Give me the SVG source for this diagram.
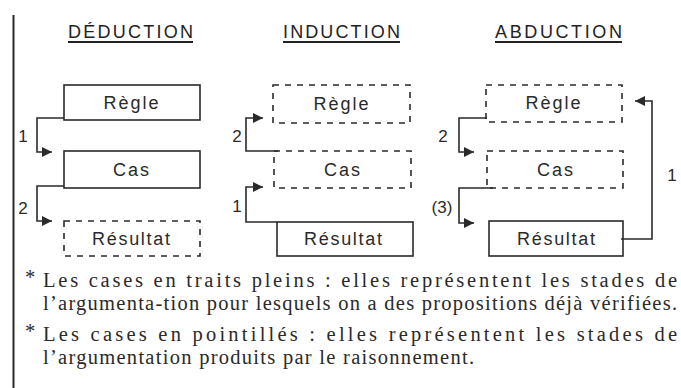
<svg xmlns="http://www.w3.org/2000/svg" width="681" height="388" viewBox="0 0 681 388">
<defs>
<marker id="ah" viewBox="0 0 10 10" refX="10" refY="5" markerWidth="10" markerHeight="10" markerUnits="userSpaceOnUse" orient="auto">
<path d="M0,0 L10,5 L0,10 z" fill="#2a2a2a"/>
</marker>
</defs>
<style>
.solid{fill:#fff;stroke:#2a2a2a;stroke-width:1.6}
.dash{fill:#fff;stroke:#2a2a2a;stroke-width:1.6;stroke-dasharray:6 6}
.lbl{font-family:"Liberation Sans",Arial,sans-serif;font-size:18px;fill:#2a2a2a;text-anchor:middle}
.ttl{font-family:"Liberation Sans",Arial,sans-serif;font-size:18px;fill:#222;text-anchor:middle}
.num{font-family:"Liberation Sans",Arial,sans-serif;font-size:17px;fill:#2a2a2a;text-anchor:middle}
.con{fill:none;stroke:#2a2a2a;stroke-width:1.6;marker-end:url(#ah)}
.body{font-family:"Liberation Serif","Times New Roman",serif;font-size:20.5px;fill:#2a2a2a}
.ul{stroke:#222;stroke-width:2}
</style>
<rect width="681" height="388" fill="#fff"/>
<line x1="13.5" y1="15" x2="13.5" y2="388" stroke="#2a2a2a" stroke-width="2"/>

<g id="titles">
<text class="ttl" x="130.5" y="38" textLength="125" lengthAdjust="spacing">DÉDUCTION</text>
<line class="ul" x1="68" y1="42" x2="193" y2="42"/>
<text class="ttl" x="341.5" y="38" textLength="117" lengthAdjust="spacing">INDUCTION</text>
<line class="ul" x1="283" y1="42" x2="400" y2="42"/>
<text class="ttl" x="558.5" y="38" textLength="127" lengthAdjust="spacing">ABDUCTION</text>
<line class="ul" x1="495" y1="42" x2="622" y2="42"/>
</g>

<g id="ded-regle"><rect class="solid" x="64" y="85" width="136" height="35"/><text class="lbl" x="131" y="109" textLength="55" lengthAdjust="spacing">Règle</text></g>
<g id="ded-cas"><rect class="solid" x="64" y="151" width="136" height="37"/><text class="lbl" x="131" y="176" textLength="36" lengthAdjust="spacing">Cas</text></g>
<g id="ded-resultat"><rect class="dash" x="64" y="221" width="136" height="35"/><text class="lbl" x="131" y="245" textLength="78" lengthAdjust="spacing">Résultat</text></g>

<g id="ind-regle"><rect class="dash" x="273" y="85" width="137" height="38"/><text class="lbl" x="341" y="110" textLength="55" lengthAdjust="spacing">Règle</text></g>
<g id="ind-cas"><rect class="dash" x="274" y="151" width="137" height="37"/><text class="lbl" x="342" y="176" textLength="36" lengthAdjust="spacing">Cas</text></g>
<g id="ind-resultat"><rect class="solid" x="277" y="222" width="136" height="34"/><text class="lbl" x="343" y="245" textLength="78" lengthAdjust="spacing">Résultat</text></g>

<g id="abd-regle"><rect class="dash" x="486" y="85" width="136" height="37"/><text class="lbl" x="553" y="109" textLength="55" lengthAdjust="spacing">Règle</text></g>
<g id="abd-cas"><rect class="dash" x="487" y="151" width="136" height="37"/><text class="lbl" x="555" y="176" textLength="36" lengthAdjust="spacing">Cas</text></g>
<g id="abd-resultat"><rect class="solid" x="489" y="221" width="134" height="35"/><text class="lbl" x="556" y="245" textLength="78" lengthAdjust="spacing">Résultat</text></g>

<g id="connectors">
<path class="con" d="M64,118 H37 V152 H52"/>
<path class="con" d="M64,186 H37 V221 H52"/>
<path class="con" d="M278,151 H246 V118 H263"/>
<path class="con" d="M277,222 H246 V187 H263"/>
<path class="con" d="M487,118 H459 V152 H474"/>
<path class="con" d="M493,188 H459 V223 H474"/>
<path class="con" d="M621,239 H652 V101 H635"/>
</g>

<g id="labels">
<text class="num" x="23" y="142">1</text>
<text class="num" x="23" y="214">2</text>
<text class="num" x="237" y="142">2</text>
<text class="num" x="237" y="212">1</text>
<text class="num" x="443" y="142">2</text>
<text class="num" x="442" y="213">(3)</text>
<text class="num" x="672" y="181">1</text>
</g>

<g id="legend">
<text class="body" x="25" y="284" font-size="14">*</text>
<text class="body" x="43" y="287" textLength="634" lengthAdjust="spacing">Les cases en traits pleins : elles représentent les stades de</text>
<text class="body" x="43" y="310" textLength="634" lengthAdjust="spacing">l’argumenta-tion pour lesquels on a des propositions déjà vérifiées.</text>
<text class="body" x="25" y="338" font-size="14">*</text>
<text class="body" x="43" y="341" textLength="634" lengthAdjust="spacing">Les cases en pointillés : elles représentent les stades de</text>
<text class="body" x="43" y="364" textLength="431" lengthAdjust="spacing">l’argumentation produits par le raisonnement.</text>
</g>
</svg>
